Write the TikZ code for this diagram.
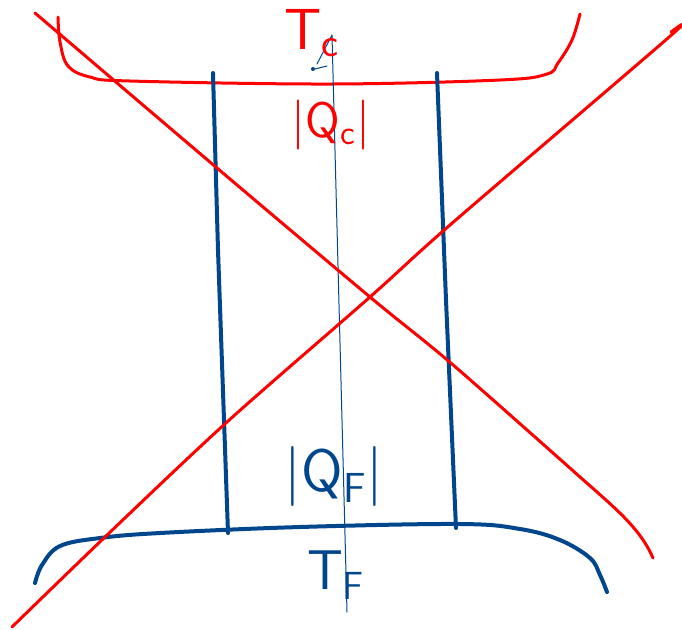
\documentclass[tikz,border=0pt]{standalone}
\usepackage{tikz}
\usetikzlibrary{calc}
\definecolor{penred}{RGB}{255,0,0}
\definecolor{penblue}{RGB}{0,70,140}

\begin{document}
\begin{tikzpicture}[x=0.5pt, y=-0.5pt, line cap=round, line join=round,
    redpen/.style={penred, line width=1.5pt},
    bluepen/.style={penblue, line width=2pt},
    hand/.style={font=\sffamily\fontsize{#1}{#1}\selectfont, inner sep=0pt}]
  \useasboundingbox (0,0) rectangle (682,629);
  % hot reservoir
  \draw[redpen] plot[smooth, tension=0.6] coordinates {(58,17) (60,42) (68,66) (90,77) (130,81) (330,84) (500,80) (547,74) (558,63) (572,40) (580,14)};
  % cold reservoir
  \draw[bluepen] plot[smooth, tension=0.6] coordinates {(35,583) (42,565) (60,546) (100,538) (160,533) (300,527) (460,524) (520,529) (560,540) (590,558) (600,575) (607,592)};
  % engine walls
  \draw[bluepen] (213,73) -- (218,250) -- (228,533);
  \draw[bluepen] (437,73) -- (446,300) -- (456,528);
  % thin axis with stray tip
  \draw[penblue, line width=0.5pt] (347,612) -- (332,35) -- (317,64);
  \draw[penblue, line width=0.5pt] (315,69) -- (327,66);
  \fill[penblue] (313,69) circle (2);
  % labels
  \node[hand=29, penred] (hotT) at (312,33) {T\textsubscript{c}};
  \node[hand=25, penred] (hotQ) at (331,125) {|Q\textsubscript{c}|};
  \node[hand=30, penblue] (coldQ) at (334,476) {|Q\textsubscript{F}|};
  \node[hand=28, penblue] (coldT) at (336,575) {T\textsubscript{F}};
  % crossing out
  \draw[redpen] plot[smooth] coordinates {(35,13) (217,168) (370,297) (452,364) (580,477)}
    .. controls (615,508) and (640,528) .. (653,558);
  \draw[redpen] plot[smooth] coordinates {(12,627) (105,537) (227,422) (370,297) (450,225) (668,38) (671,32)};
\end{tikzpicture}
\end{document}
